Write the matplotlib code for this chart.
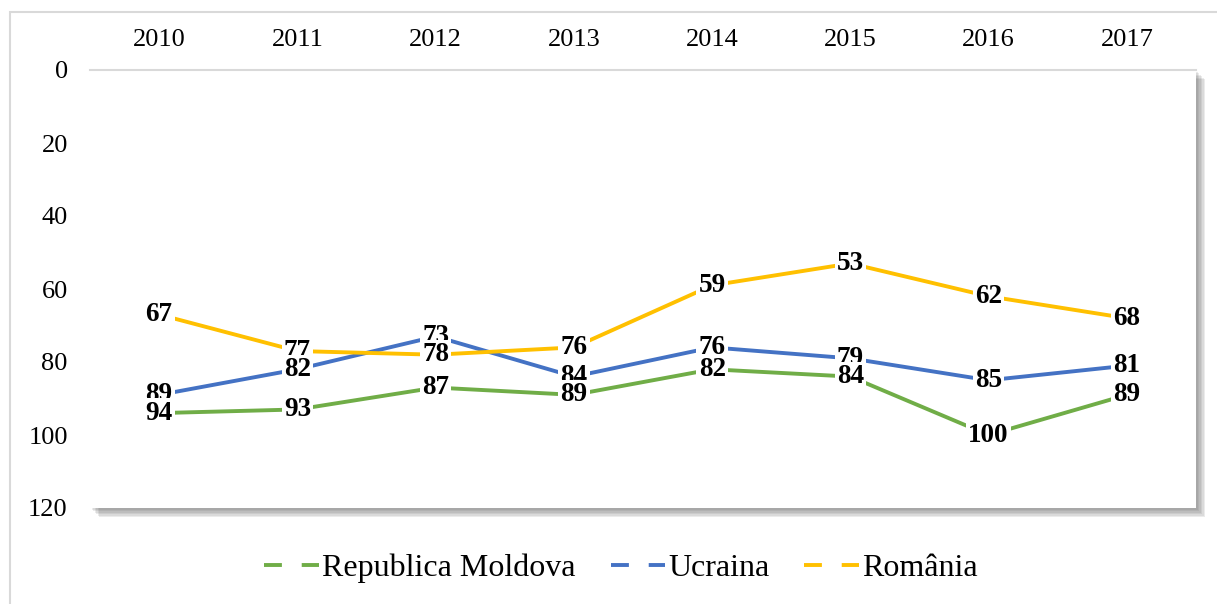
import matplotlib.pyplot as plt
import numpy as np
from matplotlib.lines import Line2D
from matplotlib.patches import Rectangle
import matplotlib.patheffects as pe

plt.rcParams['font.family'] = ['Liberation Serif', 'DejaVu Serif']

years = ['2010', '2011', '2012', '2013', '2014', '2015', '2016', '2017']
moldova = [94, 93, 87, 89, 82, 84, 100, 89]
ucraina = [89, 82, 73, 84, 76, 79, 85, 81]
romania = [67, 77, 78, 76, 59, 53, 62, 68]

series = [('Republica Moldova', moldova, '#70AD47'),
          ('Ucraina', ucraina, '#4472C4'),
          ('România', romania, '#FFC000')]

W, H = 1217, 604
fig = plt.figure(figsize=(W/100, H/100), dpi=100)

# outer chart border (clipped on right/bottom)
fig.patches.append(Rectangle((10/W, -0.1), 1.2, (H-12)/H + 0.1, transform=fig.transFigure,
                             fill=False, edgecolor='#d9d9d9', linewidth=1.5))

ax = fig.add_axes([90/W, (H-508)/H, (1196-90)/W, (508-70)/H])
# soft shadow: stacked faint layers
shadow = [pe.SimplePatchShadow(offset=(o, -o), shadow_rgbFace='#606060', alpha=0.12)
          for o in (6.5, 5.5, 4.5, 3.5, 2.5, 1.5)]
ax.patch.set_path_effects(shadow + [pe.Normal()])

x = np.arange(len(years))
for name, vals, col in series:
    ax.plot(x, vals, color=col, linewidth=2.8, solid_capstyle='butt', zorder=3)
    for xi, v in zip(x, vals):
        ax.text(xi, v, str(v), ha='center', va='center', fontsize=19.5, fontweight='bold',
                bbox=dict(boxstyle='square,pad=0.08', fc='white', ec='none'),
                zorder=10 + v/1000)

ax.set_xlim(-0.5, len(years) - 0.5)
ax.set_ylim(120, 0)
ax.set_yticks(range(0, 121, 20))
ax.set_xticks(x)
ax.set_xticklabels(years)
ax.xaxis.tick_top()
ax.tick_params(axis='both', length=0, labelsize=19, colors='black')
ax.tick_params(axis='x', pad=14)
ax.tick_params(axis='y', pad=16)
for s in ['left', 'right', 'bottom']:
    ax.spines[s].set_visible(False)
ax.spines['top'].set_color('#d9d9d9')
ax.spines['top'].set_linewidth(1.5)

handles = [Line2D([], [], color=col, linewidth=2.8, dashes=(4.6, 5.1)) for _, _, col in series]
fig.legend(handles, [s[0] for s in series], loc='center', bbox_to_anchor=(621/W, 1 - 568/H),
           ncol=3, frameon=False, fontsize=23, handlelength=1.7, handletextpad=0.1,
           columnspacing=1.1)

fig.savefig('out.png', dpi=100)
